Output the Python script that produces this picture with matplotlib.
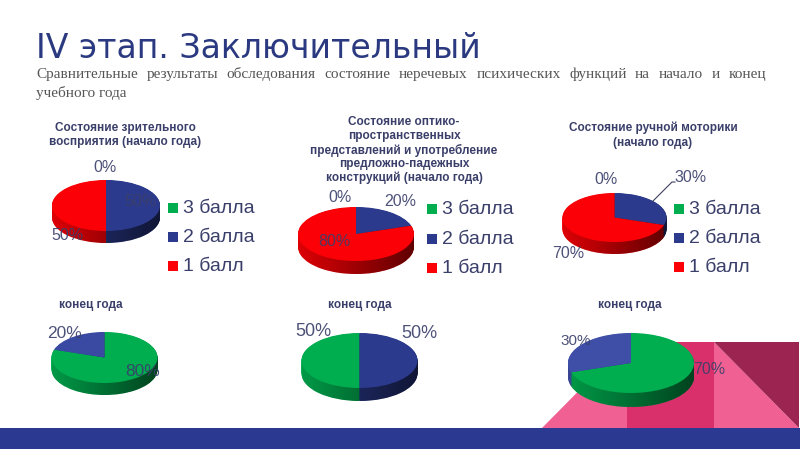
import numpy as np
import matplotlib
matplotlib.use('Agg')
import matplotlib.pyplot as plt
from matplotlib.patches import Polygon, Rectangle
from matplotlib.path import Path

W, H = 800, 450

title = 'IV этап. Заключительный'
subtitle_1 = 'Сравнительные результаты обследования состояние неречевых психических функций на начало и конец'
subtitle_2 = 'учебного года'
legend_names = ['3 балла', '2 балла', '1 балл']

# share of 3 / 2 / 1 points, per pie
vis_start = [0, 50, 50]
opt_start = [0, 20, 80]
mot_start = [0, 30, 70]
vis_end = [80, 20, 0]
opt_end = [50, 50, 0]
mot_end = [70, 30, 0]

t_vis = ['Состояние зрительного', 'восприятия (начало года)']
t_opt = ['Состояние оптико-', 'пространственных', 'представлений и употребление', 'предложно-падежных', 'конструкций (начало года)']
t_mot = ['Состояние ручной моторики', '(начало года)']
t_end = ['конец года']

GREEN = '#00ae50'
BLUE = '#2b3a8c'
RED = '#fb0006'
TXT = '#3a3f6a'

fig = plt.figure(figsize=(8, 4.5), dpi=100, facecolor='white')
bg = fig.add_axes([0, 0, 1, 1], zorder=0)
top = fig.add_axes([0, 0, 1, 1], zorder=10)
for a in (bg, top):
    a.set_xlim(0, W)
    a.set_ylim(H, 0)
    a.axis('off')
top.patch.set_alpha(0)

# corner decoration and band
bg.add_patch(Polygon([(542, 428), (627, 342), (627, 428)], fc='#f06092', lw=0))
bg.add_patch(Rectangle((627, 342), 87, 86, fc='#d9306c', lw=0))
bg.add_patch(Polygon([(714, 342), (799, 428), (714, 428)], fc='#f06092', lw=0))
bg.add_patch(Polygon([(714, 342), (799, 342), (799, 428)], fc='#9c2450', lw=0))
bg.add_patch(Rectangle((0, 428), W, 21, fc='#2b3990', lw=0))


def pie3d(vals, cx, cy, rx, ry, depth, blue=BLUE, start=90):
    ax = fig.add_axes([(cx - rx) / W, 1 - (cy + ry + depth) / H, 2 * rx / W, (2 * ry + depth) / H], zorder=5)
    cols = [GREEN, blue, RED]
    d = depth / ry
    paths = []
    for off in np.linspace(d, 0.02, 14):
        wedges, _ = ax.pie(vals, colors=cols, startangle=start, counterclock=False, center=(0, -off), radius=1,
                           wedgeprops={'lw': 0})
        for w in wedges:
            paths.append(w.get_path().transformed(w.get_patch_transform()))
    ax.set_aspect('auto')
    ax.set_xlim(-1, 1)
    ax.set_ylim(-1 - d, 1)
    # darker rim, going darker to the right
    grad = np.zeros((2, 200, 4))
    grad[:, :, 3] = np.linspace(0.12, 0.62, 200)
    im = ax.imshow(grad, extent=(-1, 1, -1 - d, 1), aspect='auto', zorder=3)
    im.set_clip_path(Path.make_compound_path(*paths), ax.transData)
    wedges, _ = ax.pie(vals, colors=cols, startangle=start, counterclock=False, radius=1, wedgeprops={'lw': 0, 'zorder': 4})
    ax.set_aspect('auto')
    ax.set_xlim(-1, 1)
    ax.set_ylim(-1 - d, 1)
    ax.patch.set_alpha(0)
    return ax


pie3d(vis_start, 106, 205.5, 54, 25.5, 12)
pie3d(opt_start, 356, 234, 58, 27, 13)
pie3d(mot_start, 614.5, 217.5, 52, 24.5, 12)
pie3d(vis_end, 104.5, 357.5, 53, 25.5, 12, blue='#3a4aa2')
pie3d(opt_end, 359.5, 360.5, 58, 27.5, 13, start=-90)
pie3d(mot_end, 631, 363, 63, 30, 14, blue='#3f4fa8')

sans = 'Liberation Sans'


def chart_title(lines, x, ys):
    for s, y in zip(lines, ys):
        top.text(x, y, s, ha='center', va='center', family=sans, weight='bold', fontsize=8.5, color=TXT)


chart_title(t_vis, 125, [128, 142])
chart_title(t_opt, 404, [122, 136, 150, 164, 178])
chart_title(t_mot, 653, [128, 143])
chart_title(t_end, 91, [305])
chart_title(t_end, 360, [305])
chart_title(t_end, 630, [305])


def pct(x, y, v, size=11.5):
    top.text(x, y, f'{v}%', ha='center', va='center', family=sans, fontsize=size, color=TXT, alpha=0.9)


pct(105, 168, vis_start[0])
pct(140, 202, vis_start[1])
pct(67, 235, vis_start[2])
pct(340, 197, opt_start[0])
pct(400, 201, opt_start[1])
pct(334, 241, opt_start[2])
pct(606, 180, mot_start[0])
pct(691, 178, mot_start[1])
pct(568, 254, mot_start[2])
pct(65, 333, vis_end[1], 12.5)
pct(143, 371, vis_end[0], 12.5)
pct(313, 331, opt_end[0], 13)
pct(419, 333, opt_end[1], 13)
pct(576, 341, mot_end[1], 11)
pct(709, 370, mot_end[0], 11.5)
top.plot([653, 672, 675], [201, 182, 182], color='#3a3f5c', lw=0.8)

for mx, tx, ys in [(173, 183, [208, 237, 266]), (432, 442, [209, 239, 268]), (679, 689, [209, 238, 267])]:
    for name, c, y in zip(legend_names, [GREEN, BLUE, RED], ys):
        top.add_patch(Rectangle((mx - 5, y - 5), 10, 10, fc=c, lw=0))
        top.text(tx, y + 0.5, name, ha='left', va='center', family=sans, fontsize=14, color=TXT)

top.text(36, 58, title, ha='left', va='baseline', family='DejaVu Sans', fontsize=23.9, color='#2b3a80')

# justified first line of the subtitle
renderer = fig.canvas.get_renderer()
words = subtitle_1.split(' ')
items = [top.text(0, 78, w, ha='left', va='baseline', family='Liberation Serif', fontsize=11, color='#555555') for w in words]
widths = [t.get_window_extent(renderer).width for t in items]
gap = (766 - 36 - sum(widths)) / (len(words) - 1)
pos = 36
for t, w in zip(items, widths):
    t.set_x(pos)
    pos += w + gap
top.text(36, 97, subtitle_2, ha='left', va='baseline', family='Liberation Serif', fontsize=11, color='#555555')

fig.savefig('out.png', dpi=100)
